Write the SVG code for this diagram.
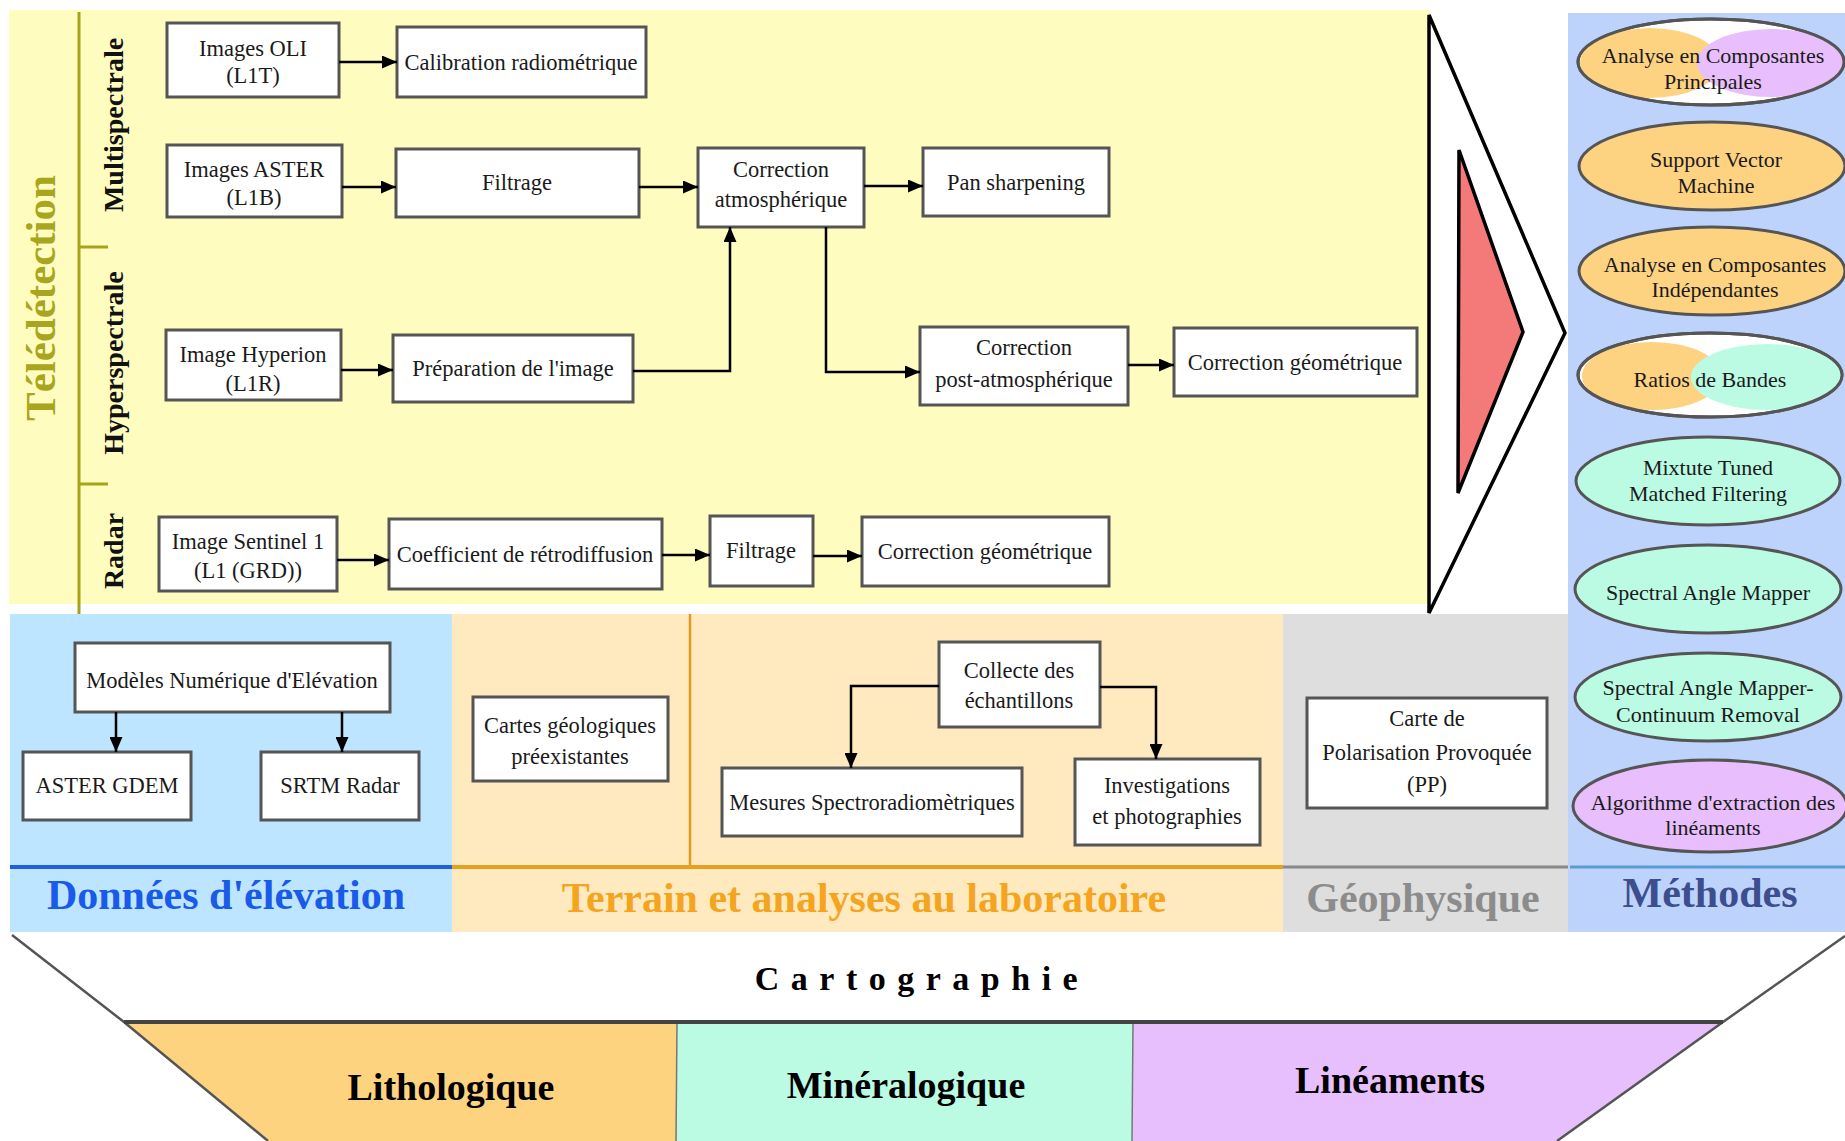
<svg xmlns="http://www.w3.org/2000/svg" width="1845" height="1141" viewBox="0 0 1845 1141">
<defs>
<style>
.box{fill:#fff;stroke:#555;stroke-width:3}
.t{font-family:"Liberation Serif","Times New Roman",serif;font-size:22.5px;fill:#1a1a1a;text-anchor:middle}
.et{font-family:"Liberation Serif","Times New Roman",serif;font-size:22px;fill:#1a1a1a;text-anchor:middle}
.c{fill:none;stroke:#000;stroke-width:2.5}
.vl{font-family:"Liberation Serif","Times New Roman",serif;font-weight:bold;font-size:28px;fill:#111;text-anchor:middle;dominant-baseline:central}
.hd{font-family:"Liberation Serif","Times New Roman",serif;font-weight:bold;font-size:42px;text-anchor:middle}
.ft{font-family:"Liberation Serif","Times New Roman",serif;font-weight:bold;font-size:38px;fill:#000;text-anchor:middle}
.ell{stroke:#555;stroke-width:3}
</style>
<marker id="arr" markerUnits="userSpaceOnUse" markerWidth="15" markerHeight="13" refX="15" refY="6.5" orient="auto">
<path d="M0,0 L15,6.5 L0,13 z" fill="#000"/>
</marker>
<clipPath id="cl1"><ellipse cx="1711" cy="62" rx="133" ry="43"/></clipPath>
<clipPath id="cl4"><ellipse cx="1710" cy="375" rx="132" ry="42"/></clipPath>
</defs>

<!-- background panels -->
<g id="panels">
<rect x="9" y="10" width="1421" height="594" fill="#FFFCBF"/>
<rect x="1568" y="13" width="277" height="919" fill="#BED3FB"/>
<rect x="10" y="614" width="442" height="318" fill="#BDE5FF"/>
<rect x="452" y="614" width="831" height="318" fill="#FFEABF"/>
<rect x="1283" y="614" width="285" height="318" fill="#DEDEDE"/>
<line x1="690" y1="614" x2="690" y2="867" stroke="#E39A20" stroke-width="2.5"/>
<line x1="10" y1="867" x2="452" y2="867" stroke="#1F5FE0" stroke-width="4"/>
<line x1="452" y1="867" x2="1283" y2="867" stroke="#E8A020" stroke-width="4"/>
<line x1="1283" y1="867" x2="1568" y2="867" stroke="#888" stroke-width="3"/>
<line x1="1570" y1="867" x2="1845" y2="867" stroke="#5B9BD5" stroke-width="3"/>
<!-- olive tree line -->
<line x1="79" y1="12" x2="79" y2="614" stroke="#A6A31A" stroke-width="3"/>
<line x1="79" y1="247" x2="108" y2="247" stroke="#A6A31A" stroke-width="3"/>
<line x1="79" y1="484" x2="108" y2="484" stroke="#A6A31A" stroke-width="3"/>
<text transform="translate(40,298) rotate(-90)" font-family="Liberation Serif, Times New Roman, serif" font-weight="bold" font-size="43" fill="#A8A61E" text-anchor="middle" dominant-baseline="central">Télédétection</text>
<text class="vl" transform="translate(113,125) rotate(-90)">Multispectrale</text>
<text class="vl" transform="translate(113,363) rotate(-90)">Hyperspectrale</text>
<text class="vl" transform="translate(113,551) rotate(-90)">Radar</text>
<!-- chevrons -->
<polygon points="1429,15 1565,333 1429,613" fill="#fff" stroke="#000" stroke-width="3.5" stroke-linejoin="miter"/>
<polygon points="1459,150 1523,332 1458,493" fill="#F47A7A" stroke="#000" stroke-width="3.5"/>
<!-- headers -->
<text class="hd" x="226" y="909" fill="#1A5AE8">Données d'élévation</text>
<text class="hd" x="864" y="912" fill="#F5A420">Terrain et analyses au laboratoire</text>
<text class="hd" x="1423" y="912" fill="#8C8C8C">Géophysique</text>
<text class="hd" x="1710" y="907" fill="#3D4E8E">Méthodes</text>
</g>

<!-- funnel -->
<g id="cartographie">
<polygon points="124,1023 677,1023 677,1141 268,1141" fill="#FDD380"/>
<polygon points="677,1023 1133,1023 1133,1141 677,1141" fill="#BBFBE4"/>
<polygon points="1133,1023 1723,1023 1557,1141 1133,1141" fill="#E8BFFD"/>
<line x1="677" y1="1023" x2="676" y2="1141" stroke="#777" stroke-width="1.5"/>
<line x1="1133" y1="1023" x2="1132" y2="1141" stroke="#777" stroke-width="1.5"/>
<polyline points="12,935 124,1022 268,1141" fill="none" stroke="#555" stroke-width="2.5"/>
<polyline points="1845,936 1723,1022 1557,1141" fill="none" stroke="#555" stroke-width="2.5"/>
<line x1="124" y1="1022" x2="1723" y2="1022" stroke="#444" stroke-width="4"/>
<text x="922" y="990" font-family="Liberation Serif, Times New Roman, serif" font-weight="bold" font-size="34" letter-spacing="11.5" fill="#000" text-anchor="middle">Cartographie</text>
<text class="ft" x="451" y="1100">Lithologique</text>
<text class="ft" x="906" y="1098">Minéralogique</text>
<text class="ft" x="1390" y="1093">Linéaments</text>
</g>

<!-- nodes -->
<g id="n-oli"><rect class="box" x="167" y="23" width="172" height="74"/><text class="t" x="253" y="56">Images OLI</text><text class="t" x="253" y="83">(L1T)</text></g>
<g id="n-calib"><rect class="box" x="397" y="27" width="249" height="70"/><text class="t" x="521" y="70">Calibration radiométrique</text></g>
<g id="n-aster"><rect class="box" x="167" y="145" width="175" height="72"/><text class="t" x="254" y="177">Images ASTER</text><text class="t" x="254" y="205">(L1B)</text></g>
<g id="n-filtrage"><rect class="box" x="396" y="149" width="243" height="68"/><text class="t" x="517" y="190">Filtrage</text></g>
<g id="n-corratm"><rect class="box" x="698" y="148" width="166" height="79"/><text class="t" x="781" y="177">Correction</text><text class="t" x="781" y="207">atmosphérique</text></g>
<g id="n-pan"><rect class="box" x="923" y="148" width="186" height="68"/><text class="t" x="1016" y="190">Pan sharpening</text></g>
<g id="n-hyperion"><rect class="box" x="166" y="330" width="175" height="70"/><text class="t" x="253" y="362">Image Hyperion</text><text class="t" x="253" y="391">(L1R)</text></g>
<g id="n-prep"><rect class="box" x="393" y="335" width="240" height="67"/><text class="t" x="513" y="376">Préparation de l'image</text></g>
<g id="n-corrpost"><rect class="box" x="920" y="327" width="208" height="78"/><text class="t" x="1024" y="355">Correction</text><text class="t" x="1024" y="387">post-atmosphérique</text></g>
<g id="n-corrgeo"><rect class="box" x="1174" y="328" width="243" height="68"/><text class="t" x="1295" y="370">Correction géométrique</text></g>
<g id="n-sentinel"><rect class="box" x="159" y="517" width="178" height="74"/><text class="t" x="248" y="549">Image Sentinel 1</text><text class="t" x="248" y="578">(L1 (GRD))</text></g>
<g id="n-coef"><rect class="box" x="389" y="519" width="273" height="70"/><text class="t" x="525" y="562">Coefficient de rétrodiffusion</text></g>
<g id="n-filtrage2"><rect class="box" x="710" y="516" width="103" height="70"/><text class="t" x="761" y="558">Filtrage</text></g>
<g id="n-corrgeo2"><rect class="box" x="862" y="517" width="247" height="69"/><text class="t" x="985" y="559">Correction géométrique</text></g>
<g id="n-mne"><rect class="box" x="75" y="643" width="315" height="69"/><text class="t" x="232" y="688">Modèles Numérique d'Elévation</text></g>
<g id="n-gdem"><rect class="box" x="23" y="752" width="168" height="68"/><text class="t" x="107" y="793">ASTER GDEM</text></g>
<g id="n-srtm"><rect class="box" x="261" y="752" width="158" height="68"/><text class="t" x="340" y="793">SRTM Radar</text></g>
<g id="n-cartes"><rect class="box" x="473" y="697" width="195" height="84"/><text class="t" x="570" y="733">Cartes géologiques</text><text class="t" x="570" y="764">préexistantes</text></g>
<g id="n-collecte"><rect class="box" x="939" y="642" width="161" height="85"/><text class="t" x="1019" y="678">Collecte des</text><text class="t" x="1019" y="708">échantillons</text></g>
<g id="n-mesures"><rect class="box" x="722" y="768" width="300" height="68"/><text class="t" x="872" y="810">Mesures Spectroradiomètriques</text></g>
<g id="n-invest"><rect class="box" x="1075" y="759" width="185" height="86"/><text class="t" x="1167" y="793">Investigations</text><text class="t" x="1167" y="824">et photographies</text></g>
<g id="n-pp"><rect class="box" x="1307" y="698" width="240" height="110"/><text class="t" x="1427" y="726">Carte de</text><text class="t" x="1427" y="760">Polarisation Provoquée</text><text class="t" x="1427" y="792">(PP)</text></g>

<!-- method ellipses -->
<g id="m-acp">
<ellipse class="ell" cx="1711" cy="62" rx="133" ry="43" fill="#fff"/>
<g clip-path="url(#cl1)"><ellipse cx="1650" cy="63" rx="70" ry="35" fill="#FDD382"/><ellipse cx="1771" cy="63" rx="74" ry="34" fill="#E8BFFC"/></g>
<ellipse cx="1711" cy="62" rx="133" ry="43" fill="none" stroke="#555" stroke-width="3"/>
<text class="et" x="1713" y="63">Analyse en Composantes</text><text class="et" x="1713" y="89">Principales</text></g>
<g id="m-svm"><ellipse class="ell" cx="1712" cy="166" rx="133" ry="44" fill="#FDD382"/><text class="et" x="1716" y="167">Support Vector</text><text class="et" x="1716" y="193">Machine</text></g>
<g id="m-aci"><ellipse class="ell" cx="1712" cy="271" rx="133" ry="44" fill="#FDD382"/><text class="et" x="1715" y="272">Analyse en Composantes</text><text class="et" x="1715" y="297">Indépendantes</text></g>
<g id="m-ratios">
<ellipse class="ell" cx="1710" cy="375" rx="132" ry="42" fill="#fff"/>
<g clip-path="url(#cl4)"><ellipse cx="1652" cy="376" rx="70" ry="34" fill="#FDD382"/><ellipse cx="1767" cy="377" rx="76" ry="33" fill="#BBFBE3"/></g>
<ellipse cx="1710" cy="375" rx="132" ry="42" fill="none" stroke="#555" stroke-width="3"/>
<text class="et" x="1710" y="387">Ratios de Bandes</text></g>
<g id="m-mtmf"><ellipse class="ell" cx="1708" cy="481" rx="132" ry="44" fill="#BBFBE3"/><text class="et" x="1708" y="475">Mixtute Tuned</text><text class="et" x="1708" y="501">Matched Filtering</text></g>
<g id="m-sam"><ellipse class="ell" cx="1708" cy="589" rx="133" ry="44" fill="#BBFBE3"/><text class="et" x="1708" y="600">Spectral Angle Mapper</text></g>
<g id="m-samcr"><ellipse class="ell" cx="1708" cy="697" rx="133" ry="44" fill="#BBFBE3"/><text class="et" x="1708" y="695">Spectral Angle Mapper-</text><text class="et" x="1708" y="722">Continuum Removal</text></g>
<g id="m-algo"><ellipse class="ell" cx="1710" cy="806" rx="137" ry="46" fill="#E8BFFC"/><text class="et" x="1713" y="810">Algorithme d'extraction des</text><text class="et" x="1713" y="835">linéaments</text></g>

<!-- connectors -->
<g id="connectors">
<path class="c" d="M339,62 H397" marker-end="url(#arr)"/>
<path class="c" d="M342,187 H396" marker-end="url(#arr)"/>
<path class="c" d="M639,187 H698" marker-end="url(#arr)"/>
<path class="c" d="M864,186 H923" marker-end="url(#arr)"/>
<path class="c" d="M341,370 H393" marker-end="url(#arr)"/>
<path class="c" d="M633,371 H730 V227" marker-end="url(#arr)"/>
<path class="c" d="M826,227 V372 H920" marker-end="url(#arr)"/>
<path class="c" d="M1128,365 H1174" marker-end="url(#arr)"/>
<path class="c" d="M337,560 H389" marker-end="url(#arr)"/>
<path class="c" d="M662,555 H710" marker-end="url(#arr)"/>
<path class="c" d="M813,556 H862" marker-end="url(#arr)"/>
<path class="c" d="M116,712 V752" marker-end="url(#arr)"/>
<path class="c" d="M342,712 V752" marker-end="url(#arr)"/>
<path class="c" d="M939,686 H851 V768" marker-end="url(#arr)"/>
<path class="c" d="M1100,687 H1156 V759" marker-end="url(#arr)"/>
</g>
</svg>
